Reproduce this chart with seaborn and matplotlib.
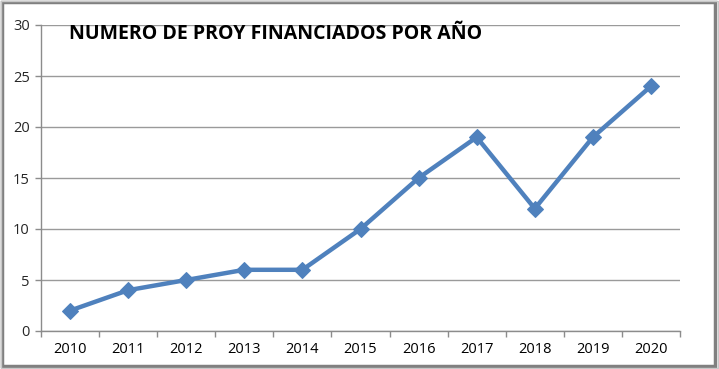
import matplotlib
matplotlib.use("Agg")
import matplotlib.pyplot as plt
import seaborn as sns
import pandas as pd
import numpy as np
from matplotlib.patches import Rectangle

years = ["2010", "2011", "2012", "2013", "2014", "2015", "2016", "2017", "2018", "2019", "2020"]
proyectos = [2, 4, 5, 6, 6, 10, 15, 19, 12, 19, 24]
title = "NUMERO DE PROY FINANCIADOS POR AÑO"

sns.set_theme(style="white")
plt.rcParams['font.family'] = ['Open Sans', 'DejaVu Sans']

df = pd.DataFrame({"anio": years, "n": proyectos})
df["pos"] = np.arange(len(years))

fig = plt.figure(figsize=(7.19, 3.69), dpi=100)
ax = fig.add_axes([41/719, 1 - 331/369, (680-41)/719, (331-25)/369])

sns.lineplot(data=df, x="pos", y="n", ax=ax, color="#4F81BD", linewidth=3.2,
             marker="D", markersize=8, markeredgecolor="#4F81BD", zorder=3)

ax.set_xlim(-0.5, len(years) - 0.5)
ax.set_ylim(0, 30)
ax.set_yticks(range(0, 31, 5))
ax.yaxis.grid(True, color="#9a9a9a", linewidth=1)
ax.set_xticks(df["pos"])
ax.set_xticklabels(years)
ax.set_xticks(np.arange(-0.5, len(years)), minor=True)
ax.tick_params(axis="x", which="major", length=0, labelsize=10.5, pad=8, colors="#000000")
ax.tick_params(axis="x", which="minor", length=4, width=1, color="#8c8c8c", bottom=True, direction="out")
ax.tick_params(axis="y", which="major", length=4, width=1, color="#8c8c8c", left=True, labelsize=10.5, pad=4)
ax.set_xlabel("")
ax.set_ylabel("")
for s in ["top", "right"]:
    ax.spines[s].set_visible(False)
for s in ["left", "bottom"]:
    ax.spines[s].set_color("#8c8c8c")
    ax.spines[s].set_linewidth(1)

ax.text(69/719, 1 - 34/369, title, transform=fig.transFigure, fontsize=14,
        fontweight="bold", va="center", ha="left", color="#000000")

fig.patches.append(Rectangle((1.5/719, 1 - 366/369), 713/719, 364/369,
                             transform=fig.transFigure, fill=False,
                             edgecolor="#808080", linewidth=2.5))
fig.patches.append(Rectangle((0.5/719, 1 - 368/369), 717/719, 367.5/369,
                             transform=fig.transFigure, fill=False,
                             edgecolor="#c8c8c8", linewidth=1))

fig.savefig("out.png", dpi=100)
